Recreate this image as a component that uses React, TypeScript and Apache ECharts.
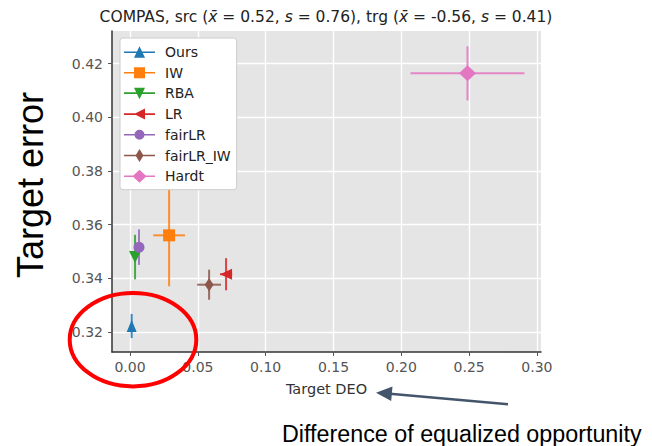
import React, { useEffect, useRef } from "react";
import * as echarts from "echarts";

const methods = ["Ours", "IW", "RBA", "LR", "fairLR", "fairLR_IW", "Hardt"];
const deoValues = [0.0012, 0.0288, 0.0037, 0.0708, 0.0066, 0.0583, 0.2488];
const errorValues = [0.3222, 0.356, 0.3479, 0.3415, 0.3516, 0.3376, 0.4164];
const deoErr = [0.0015, 0.0117, 0.0015, 0.0045, 0.0015, 0.0088, 0.042];
const errorErr = [0.0045, 0.019, 0.0083, 0.006, 0.0066, 0.0056, 0.0101];
const colors = ["#1f77b4", "#ff7f0e", "#2ca02c", "#d62728", "#9467bd", "#8c564b", "#e377c2"];
const xTicks = [0, 0.05, 0.1, 0.15, 0.2, 0.25, 0.3];
const yTicks = [0.32, 0.34, 0.36, 0.38, 0.4, 0.42];

const symbols = ["triangle", "rect", "triangle", "triangle", "circle", "diamond", "diamond"];
const symbolSizes: any[] = [[10, 12], [12, 12], [12, 12], [11, 12], [11, 11], [9, 13], [17, 16]];
const symbolRotates = [0, 0, 180, 90, 0, 0, 0];

const LINE = "M0,6.2 H31 V7.8 H0 Z ";
const legendIcons = [
  "path://" + LINE + "M15.5,1 L21,12.5 L10,12.5 Z",
  "path://" + LINE + "M10,1.5 H21 V12.5 H10 Z",
  "path://" + LINE + "M10,1.5 L21,1.5 L15.5,13 Z",
  "path://" + LINE + "M10,7 L21,1.5 L21,12.5 Z",
  "path://" + LINE + "M20.5,7 A5,5 0 1 1 10.5,7 A5,5 0 1 1 20.5,7 Z",
  "path://" + LINE + "M15.5,0.5 L19.5,7 L15.5,13.5 L11.5,7 Z",
  "path://" + LINE + "M15.5,0.5 L22.5,7 L15.5,13.5 L8.5,7 Z",
];

const FONT = "DejaVu Sans";

export default function App() {
  const ref = useRef<HTMLDivElement>(null);
  useEffect(() => {
    if (!ref.current) return;
    const chart = echarts.init(ref.current, null, { renderer: "svg" });
    const series: any[] = [];
    methods.forEach((m, i) => {
      series.push({
        type: "custom",
        name: "err_" + m,
        data: [[deoValues[i], errorValues[i], deoErr[i], errorErr[i]]],
        renderItem: (params: any, api: any) => {
          const x = api.value(0), y = api.value(1), dx = api.value(2), dy = api.value(3);
          const l = api.coord([x - dx, y]);
          const r = api.coord([x + dx, y]);
          const t = api.coord([x, y + dy]);
          const b = api.coord([x, y - dy]);
          const st = { stroke: colors[i], lineWidth: 2, opacity: 0.85 };
          return {
            type: "group",
            children: [
              { type: "line", shape: { x1: l[0], y1: l[1], x2: r[0], y2: r[1] }, style: st },
              { type: "line", shape: { x1: t[0], y1: t[1], x2: b[0], y2: b[1] }, style: st },
            ],
          };
        },
        silent: true,
      });
      series.push({
        type: "scatter",
        name: m,
        data: [[deoValues[i], errorValues[i]]],
        symbol: symbols[i],
        symbolSize: symbolSizes[i],
        symbolRotate: symbolRotates[i],
        itemStyle: { color: colors[i], opacity: 1 },
      });
    });

    chart.setOption({
      animation: false,
      title: {
        text: "COMPAS, src ({i|x̄} = 0.52, {i|s} = 0.76), trg ({i|x̄} = -0.56, {i|s} = 0.41)",
        left: "center",
        top: 9,
        padding: 0,
        textStyle: {
          fontFamily: FONT,
          fontSize: 15.5,
          fontWeight: "normal",
          color: "#222",
          rich: { i: { fontFamily: FONT, fontSize: 15.5, fontStyle: "italic", color: "#222" } },
        },
      },
      legend: {
        orient: "vertical",
        left: 120,
        top: 38,
        itemWidth: 31,
        itemHeight: 14,
        itemGap: 6.7,
        padding: [7, 6, 6.5, 4],
        backgroundColor: "#ffffff",
        borderColor: "#cccccc",
        borderWidth: 1,
        borderRadius: 3,
        selectedMode: false,
        textStyle: { fontFamily: FONT, fontSize: 14, color: "#222", padding: [0, 0, 0, 5] },
        data: methods.map((m, i) => ({ name: m, icon: legendIcons[i], itemStyle: { color: colors[i] } })),
        z: 10,
      },
      grid: { left: 112, right: 111, top: 31, bottom: 94, show: true, backgroundColor: "#e5e5e5", borderWidth: 0, containLabel: false, outerBoundsMode: "none" },
      xAxis: {
        type: "value",
        min: -0.0133,
        max: 0.303,
        name: "Target DEO",
        nameLocation: "middle",
        nameGap: 29,
        nameTextStyle: { fontFamily: FONT, fontSize: 14.5, color: "#333" },
        axisLine: { show: true, onZero: false, lineStyle: { color: "#333", width: 1.5 } },
        axisTick: { show: true, length: 4, customValues: xTicks, lineStyle: { color: "#555" } },
        axisLabel: { customValues: xTicks, formatter: (v: number) => v.toFixed(2), fontFamily: FONT, fontSize: 14, color: "#555", margin: 8 },
        splitLine: { show: true, lineStyle: { color: "#ffffff", width: 1.3 } },
      },
      yAxis: {
        type: "value",
        min: 0.3125,
        max: 0.4322,
        axisLine: { show: true, onZero: false, lineStyle: { color: "#333", width: 1.5 } },
        axisTick: { show: true, length: 4, customValues: yTicks, lineStyle: { color: "#555" } },
        axisLabel: { customValues: yTicks, formatter: (v: number) => v.toFixed(2), fontFamily: FONT, fontSize: 14, color: "#555", margin: 9 },
        splitLine: { show: true, lineStyle: { color: "#ffffff", width: 1.3 } },
      },
      series,
      graphic: [
        {
          type: "text",
          x: 30,
          y: 185,
          rotation: Math.PI / 2,
          style: { text: "Target error", fontFamily: "Liberation Sans", fontSize: 36, fill: "#000", align: "center", verticalAlign: "middle" },
        },
        {
          type: "text",
          x: 282,
          y: 434,
          style: { text: "Difference of equalized opportunity", fontFamily: "Liberation Sans", fontSize: 23.3, fill: "#000", align: "left", verticalAlign: "middle" },
        },
        {
          type: "line",
          shape: { x1: 508, y1: 404.3, x2: 390, y2: 393.8 },
          style: { stroke: "#44546a", lineWidth: 2.5 },
          z: 50,
        },
        {
          type: "polygon",
          shape: { points: [[376, 392.7], [392.5, 386.5], [391.2, 401]] },
          style: { fill: "#44546a" },
          z: 50,
        },
        {
          type: "ellipse",
          shape: { cx: 133, cy: 339.7, rx: 63.3, ry: 46.7 },
          style: { fill: "transparent", stroke: "#ff0000", lineWidth: 4 },
          z: 100,
        },
      ],
    });
    return () => chart.dispose();
  }, []);
  return <div ref={ref} style={{ position: "absolute", left: 0, top: 0, width: 652, height: 446 }} />;
}
